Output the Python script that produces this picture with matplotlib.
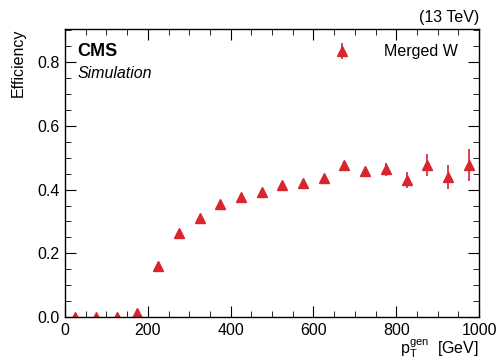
import matplotlib
matplotlib.use("Agg")
import matplotlib.pyplot as plt
from matplotlib.ticker import MultipleLocator

plt.rcParams['font.family'] = ['Liberation Sans', 'DejaVu Sans']
plt.rcParams['mathtext.fontset'] = 'custom'
plt.rcParams['mathtext.rm'] = 'Liberation Sans'
plt.rcParams['mathtext.it'] = 'Liberation Sans'

pt_centers = [25, 75, 125, 175, 225, 275, 325, 375, 425, 475,
              525, 575, 625, 675, 725, 775, 825, 875, 925, 975]
efficiency = [0.0, 0.0, 0.0, 0.012, 0.16, 0.264, 0.31, 0.354, 0.377, 0.392,
              0.414, 0.42, 0.436, 0.477, 0.458, 0.464, 0.43, 0.477, 0.44, 0.477]
eff_err = [0.002, 0.002, 0.002, 0.004, 0.006, 0.006, 0.006, 0.006, 0.007, 0.007,
           0.008, 0.009, 0.010, 0.012, 0.014, 0.020, 0.025, 0.035, 0.038, 0.05]

color = '#d8252f'

fig = plt.figure(figsize=(5.0, 3.62), dpi=100)
ax = fig.add_axes([0.13, 0.124, 0.828, 0.796])

ax.errorbar(pt_centers, efficiency, yerr=eff_err, fmt='^', color=color,
            markersize=7.5, elinewidth=1.2, capsize=0, label='Merged W')

ax.set_xlim(0, 1000)
ax.set_ylim(0, 0.904)
ax.xaxis.set_major_locator(MultipleLocator(200))
ax.xaxis.set_minor_locator(MultipleLocator(50))
ax.yaxis.set_major_locator(MultipleLocator(0.2))
ax.yaxis.set_minor_locator(MultipleLocator(0.05))
ax.yaxis.set_major_formatter(matplotlib.ticker.FormatStrFormatter('%.1f'))
ax.tick_params(which='both', direction='in', top=True, right=True, labelsize=11.5, pad=4)
ax.tick_params(which='major', length=8)
ax.tick_params(which='minor', length=4)
for s in ax.spines.values():
    s.set_linewidth(1.0)

ax.set_ylabel('Efficiency', fontsize=11.5, loc='top', labelpad=8)
ax.set_xlabel(r'$\mathregular{p_T^{gen}}$  [GeV]', fontsize=11.5, loc='right', labelpad=0)

ax.text(0.03, 0.95, 'CMS', transform=ax.transAxes, fontsize=13, fontweight='bold', va='top', ha='left')
ax.text(0.03, 0.87, 'Simulation', transform=ax.transAxes, fontsize=11.5, style='italic', va='top', ha='left')
ax.text(1.0, 1.015, '(13 TeV)', transform=ax.transAxes, fontsize=11.5, va='bottom', ha='right')

leg = ax.legend(loc='upper right', frameon=False, fontsize=11.5, handletextpad=1.6,
                bbox_to_anchor=(0.975, 0.985), borderaxespad=0.3)

fig.savefig('out.png', dpi=100)
